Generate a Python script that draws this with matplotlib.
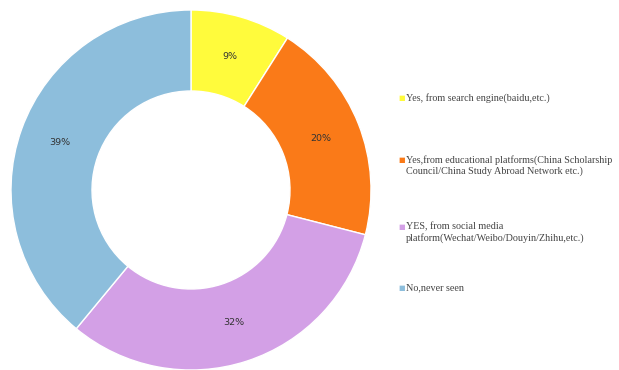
import matplotlib
matplotlib.use('Agg')
import matplotlib.pyplot as plt

labels = ['Yes, from search engine(baidu,etc.)',
          'Yes,from educational platforms(China Scholarship\nCouncil/China Study Abroad Network etc.)',
          'YES, from social media\nplatform(Wechat/Weibo/Douyin/Zhihu,etc.)',
          'No,never seen']
shares = [9, 20, 32, 39]
colors = ['#FFFB3C', '#FA7A18', '#D3A0E6', '#8DBEDC']

fig = plt.figure(figsize=(6.19, 3.70), dpi=100)
ax = fig.add_axes([11/619, 0.0, 360/619, 360/370])

wedges, texts, autotexts = ax.pie(
    shares, colors=colors, startangle=90, counterclock=False,
    autopct='%d%%', pctdistance=0.775,
    wedgeprops=dict(width=0.45, edgecolor='white', linewidth=1),
    textprops=dict(fontsize=6.8, family='DejaVu Sans', color='#333333'))
ax.set_xlim(-1, 1)
ax.set_ylim(-1, 1)
ax.set_aspect('equal')

# legend entries placed by hand, one square marker per row
ys = [98, 160, 227, 288]
for lab, c, y in zip(labels, colors, ys):
    fig.text(398/619, 1 - y/370, '\u25a0', color=c, fontsize=5, va='center', ha='left')
    fig.text(406/619, 1 - (y - 5)/370, lab, fontsize=7.3, family='Liberation Serif',
             color='#444444', va='top', ha='left', linespacing=1.2)

fig.savefig('out.png', dpi=100)
